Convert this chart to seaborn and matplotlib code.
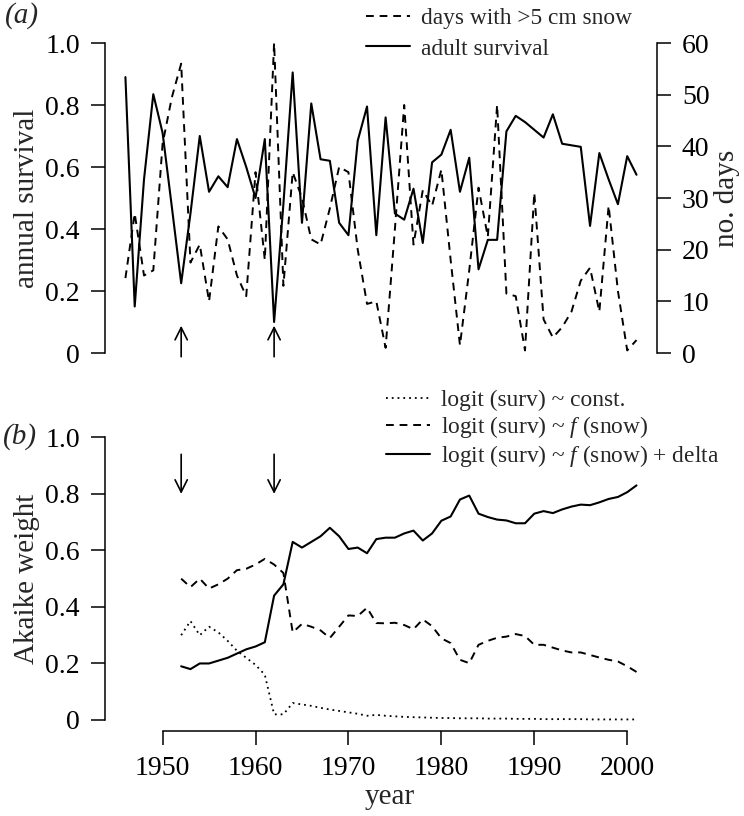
import matplotlib
matplotlib.use("Agg")
import matplotlib.pyplot as plt
import numpy as np
import seaborn as sns
from matplotlib.lines import Line2D

# panel (a): annual data 1946-2001
years_a = np.arange(1946, 2002)
adult_survival = [0.89, 0.15, 0.56, 0.835, 0.71, 0.47, 0.225, 0.45, 0.70, 0.52,
                  0.57, 0.535, 0.69, 0.60, 0.50, 0.69, 0.10, 0.48, 0.905, 0.42,
                  0.805, 0.625, 0.62, 0.42, 0.38, 0.685, 0.795, 0.38, 0.76, 0.45,
                  0.43, 0.53, 0.355, 0.615, 0.64, 0.72, 0.52, 0.63, 0.27, 0.365,
                  0.365, 0.715, 0.765, 0.745, 0.72, 0.695, 0.77, 0.675, 0.67, 0.665,
                  0.41, 0.645, 0.56, 0.48, 0.635, 0.575]
snow_days = [14.5, 27, 15, 16, 40.5, 49.5, 56, 17.5, 21, 10,
             24.5, 22, 15, 11, 35, 18, 60, 13, 35, 30,
             22, 21, 28, 36, 35, 20, 9.5, 10, 1, 24,
             48, 21, 31.5, 28.5, 35.5, 18, 1.5, 16, 32, 22.5,
             48, 11.5, 11, 0.5, 31, 6.5, 3, 5, 8, 14,
             16.5, 8, 28.5, 12, 0.5, 2.5]

# panel (b): Akaike weights 1952-2001
years_b = np.arange(1952, 2002)
w_const = [0.30, 0.35, 0.30, 0.33, 0.31, 0.28, 0.245, 0.22, 0.195, 0.16,
           0.02, 0.02, 0.06, 0.055, 0.05, 0.043, 0.037, 0.032, 0.027, 0.022,
           0.015, 0.018, 0.015, 0.013, 0.011, 0.010, 0.009, 0.008, 0.007, 0.007,
           0.006, 0.006, 0.006, 0.005, 0.005, 0.005, 0.004, 0.004, 0.004, 0.003,
           0.003, 0.003, 0.003, 0.003, 0.002, 0.002, 0.002, 0.002, 0.002, 0.002]
w_snow = [0.50, 0.47, 0.50, 0.465, 0.48, 0.50, 0.53, 0.535, 0.55, 0.57,
          0.55, 0.52, 0.31, 0.34, 0.33, 0.317, 0.29, 0.33, 0.37, 0.368,
          0.397, 0.343, 0.342, 0.344, 0.336, 0.321, 0.356, 0.332, 0.289, 0.272,
          0.213, 0.201, 0.266, 0.28, 0.291, 0.295, 0.304, 0.297, 0.266, 0.266,
          0.256, 0.246, 0.239, 0.239, 0.23, 0.221, 0.213, 0.207, 0.19, 0.17]
w_delta = [0.19, 0.18, 0.20, 0.20, 0.21, 0.22, 0.235, 0.25, 0.26, 0.275,
           0.44, 0.48, 0.63, 0.61, 0.63, 0.65, 0.68, 0.65, 0.605, 0.61,
           0.59, 0.64, 0.645, 0.645, 0.66, 0.67, 0.635, 0.66, 0.705, 0.72,
           0.78, 0.794, 0.73, 0.718, 0.709, 0.706, 0.696, 0.696, 0.73, 0.739,
           0.732, 0.745, 0.755, 0.762, 0.76, 0.77, 0.782, 0.789, 0.806, 0.83]

event_years = [1952, 1962]
x_ticks = [1950, 1960, 1970, 1980, 1990, 2000]

sns.set_theme(style="ticks")
plt.rcParams["font.family"] = ["Liberation Serif", "DejaVu Serif"]
plt.rcParams["mathtext.fontset"] = "custom"
plt.rcParams["mathtext.rm"] = "Liberation Serif"
plt.rcParams["mathtext.it"] = "Liberation Serif:italic"
plt.rcParams["axes.linewidth"] = 1.1
plt.rcParams["xtick.major.width"] = 1.1
plt.rcParams["ytick.major.width"] = 1.1
plt.rcParams["xtick.major.size"] = 10
plt.rcParams["ytick.major.size"] = 10
plt.rcParams["xtick.major.pad"] = 8
plt.rcParams["ytick.major.pad"] = 8
plt.rcParams["xtick.color"] = "black"
plt.rcParams["ytick.color"] = "black"
plt.rcParams["axes.edgecolor"] = "black"

FS = 20      # tick labels
LBS = 21     # axis labels
LFS = 16.8   # legend text
XLIM = (1943.8, 2003.2)
DASH = (4, 3)
DOT = (1, 2.2)

fig = plt.figure(figsize=(7.44, 8.16), dpi=100)
ax_a = fig.add_axes([0.1411, 0.5522, 0.7419, 0.4103])
ax_b = fig.add_axes([0.1411, 0.1038, 0.7419, 0.3741])
ax_a2 = ax_a.twinx()

# ---- panel (a)
sns.lineplot(x=years_a, y=adult_survival, ax=ax_a, color="black", lw=1.5)
sns.lineplot(x=years_a, y=snow_days, ax=ax_a2, color="black", lw=1.4)
ax_a2.lines[0].set_dashes(DASH)

ax_a.set_xlim(XLIM)
ax_a.set_ylim(-0.04, 1.04)
ax_a2.set_ylim(-2.4, 62.4)
ax_a.set_yticks([0, 0.2, 0.4, 0.6, 0.8, 1.0])
ax_a.set_yticklabels(["0", "0.2", "0.4", "0.6", "0.8", "1.0"])
ax_a2.set_yticks([0, 10, 20, 30, 40, 50, 60])
for a in (ax_a, ax_a2):
    a.tick_params(labelsize=FS)
    a.set_xticks([])
    for s in ("top", "bottom"):
        a.spines[s].set_visible(False)
ax_a.spines["right"].set_visible(False)
ax_a2.spines["left"].set_visible(False)
ax_a.spines["left"].set_bounds(0, 1)
ax_a2.spines["right"].set_bounds(0, 60)

ax_a.set_ylabel("annual survival", fontsize=LBS, va="center")
ax_a.yaxis.set_label_coords(-0.141, 0.5)
ax_a2.set_ylabel("no. days", fontsize=LBS, va="center", rotation=90)
ax_a2.yaxis.set_label_coords(1.127, 0.5)

for yr in event_years:
    ax_a.annotate("", xy=(yr, 0.088), xytext=(yr, -0.012),
                  arrowprops=dict(arrowstyle="->", lw=1.2, color="black",
                                  mutation_scale=22, shrinkA=0, shrinkB=0))

handles_a = [Line2D([], [], color="black", lw=1.4, dashes=DASH),
             Line2D([], [], color="black", lw=1.5)]
ax_a.legend(handles_a, ["days with >5 cm snow", "adult survival"],
            loc="upper left", bbox_to_anchor=(366 / 744, 1 - 8 / 816),
            bbox_transform=fig.transFigure, frameon=False, fontsize=LFS,
            handlelength=1.9, handletextpad=0.45, labelspacing=0.38,
            borderpad=0, borderaxespad=0)

fig.text(5 / 744, 1 - 16 / 816, "(a)", fontsize=LBS, style="italic", va="center")

# ---- panel (b)
sns.lineplot(x=years_b, y=w_const, ax=ax_b, color="black", lw=1.3)
sns.lineplot(x=years_b, y=w_snow, ax=ax_b, color="black", lw=1.4)
sns.lineplot(x=years_b, y=w_delta, ax=ax_b, color="black", lw=1.5)
ax_b.lines[0].set_dashes(DOT)
ax_b.lines[1].set_dashes(DASH)

ax_b.set_xlim(XLIM)
ax_b.set_ylim(-0.04, 1.04)
ax_b.set_yticks([0, 0.2, 0.4, 0.6, 0.8, 1.0])
ax_b.set_yticklabels(["0", "0.2", "0.4", "0.6", "0.8", "1.0"])
ax_b.set_xticks(x_ticks)
ax_b.tick_params(labelsize=FS)
ax_b.spines["top"].set_visible(False)
ax_b.spines["right"].set_visible(False)
ax_b.spines["left"].set_bounds(0, 1)
ax_b.spines["bottom"].set_bounds(1950, 2000)
ax_b.set_ylabel("Akaike weight", fontsize=LBS, va="center")
ax_b.yaxis.set_label_coords(-0.141, 0.5)
ax_b.set_xlabel("year", fontsize=LBS, va="center")
ax_b.xaxis.set_label_coords(0.515, -0.215)

for yr in event_years:
    ax_b.annotate("", xy=(yr, 0.80), xytext=(yr, 0.94),
                  arrowprops=dict(arrowstyle="->", lw=1.2, color="black",
                                  mutation_scale=22, shrinkA=0, shrinkB=0))

handles_b = [Line2D([], [], color="black", lw=1.3, dashes=DOT),
             Line2D([], [], color="black", lw=1.4, dashes=DASH),
             Line2D([], [], color="black", lw=1.5)]
labels_b = ["logit (surv) ~ const.",
            r"logit (surv) ~ $f$ (snow)",
            r"logit (surv) ~ $f$ (snow) + delta"]
ax_b.legend(handles_b, labels_b,
            loc="upper left", bbox_to_anchor=(386 / 744, 1 - 390 / 816),
            bbox_transform=fig.transFigure, frameon=False, fontsize=LFS,
            handlelength=1.9, handletextpad=0.45, labelspacing=0.12,
            borderpad=0, borderaxespad=0)

fig.text(3 / 744, 1 - 437 / 816, "(b)", fontsize=LBS, style="italic", va="center")

plt.savefig("out.png", dpi=100)
plt.close()
